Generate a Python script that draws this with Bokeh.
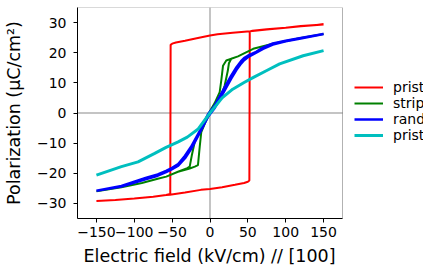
from bokeh.plotting import figure
from bokeh.models import Range1d, Span, Legend, LegendItem, FixedTicker, BoxAnnotation, Title
from bokeh.embed import file_html
from bokeh.resources import INLINE

# ---------------- data ----------------
series_names = ["pristine [100]", "stripe [100]", "rand.2 [100]", "pristine [110]"]
series_colors = ["#ff0000", "#008000", "#0000ff", "#00bfbf"]

red_x = [150, 120, 100, 75, 53, 30, 10, 0, -16, -33, -45, -50, -52,
         -52.5, -58, -75, -100, -125, -150,
         -125, -100, -75, -58, -53, -33, -12, 0, 16, 33, 45, 50, 52,
         52.5, 56, 75, 100, 120, 150]
red_y = [29.4, 28.8, 28.3, 27.7, 27.1, 26.6, 26.1, 25.7, 24.9, 24.0, 23.4, 23.0, 22.6,
         -26.9, -27.2, -27.8, -28.4, -28.9, -29.2,
         -28.9, -28.4, -27.8, -27.2, -27.1, -26.4, -25.5, -25.2, -24.6, -23.8, -23.2, -22.8, -22.4,
         27.0, 27.3, 27.8, 28.3, 28.9, 29.4]

green_x = [150, 118, 83, 57, 37, 28, 25, 23.5, 19.4, 15, 1.8, -6, -11.5, -13.5, -15.9, -20, -26.8,
           -42.3, -57.7, -69, -90, -117, -150,
           -117, -90, -69, -57.7, -42.3, -30, -26.8, -24, -20.2, -13, -2.6, 6, 12.8, 15, 17.2, 21.5,
           37, 57, 83, 118, 150]
green_y = [26.2, 24.8, 23.0, 21.3, 18.8, 18.0, 16.5, 14.0, 9.1, 5.8, 0.9, -3.0, -6.3, -11.0, -17.3, -17.8, -18.4,
           -19.5, -21.1, -21.8, -23.2, -24.6, -26.0,
           -24.6, -23.2, -21.8, -21.1, -19.5, -18.3, -17.8, -14.0, -9.6, -6.0, -0.5, 3.2, 6.9, 11.0, 15.7, 17.4,
           18.8, 21.3, 23.0, 24.8, 26.2]

blue_x = [-150, -117, -84, -69, -58, -50, -42, -33, -25, -13.6, -2.6, 6, 17, 28, 35, 41, 45, 50, 61, 70, 83, 100, 118, 150,
          118, 100, 83, 70, 61, 50, 45, 41, 35, 28, 17, 6, -2.6, -13.6, -25, -33, -42, -50, -58, -69, -84, -117, -150]
blue_y = [-25.8, -24.4, -21.9, -20.8, -19.6, -18.6, -17.5, -15.0, -12.0, -6.6, -1.2, 1.6, 6.4, 11.4, 14.3, 16.4, 17.5, 18.5, 20.0, 21.3, 22.7, 23.8, 24.6, 26.2,
          24.8, 24.0, 23.1, 21.7, 20.3, 19.0, 18.2, 17.2, 15.2, 12.4, 7.4, 2.4, -0.4, -6.0, -11.2, -14.2, -16.9, -18.2, -19.2, -20.4, -21.5, -24.2, -25.8]

cyan_x = [-150, -117, -95, -73, -58, -42, -30, -16, 0, 16, 30, 45, 58, 75, 92, 123, 150]
cyan_y = [-20.6, -17.8, -16.2, -13.4, -11.4, -9.6, -8.0, -5.4, 0.0, 5.0, 7.9, 10.1, 11.9, 14.1, 16.3, 19.0, 20.7]

x_lim = (-175, 175)
y_lim = (-35, 35)
x_ticks = [-150, -100, -50, 0, 50, 100, 150]
y_ticks = [-30, -20, -10, 0, 10, 20, 30]
x_label = "Electric field (kV/cm) // [100]"
y_label = "Polarization (\u03bcC/cm\u00b2)"

# ---------------- figure ----------------
FONT = "DejaVu Sans"
AX_PX = 265          # width of the axes box in pixels
FRAME_W = 346        # frame continues to the canvas edge (room for the legend)
x_end = x_lim[0] + (x_lim[1] - x_lim[0]) * FRAME_W / AX_PX

p = figure(frame_width=FRAME_W, frame_height=211,
           x_range=Range1d(x_lim[0], x_end), y_range=Range1d(*y_lim),
           output_backend="svg", toolbar_location=None,
           min_border_left=71, min_border_right=0,
           min_border_top=7, min_border_bottom=0)
p.grid.visible = False
p.outline_line_color = None
p.background_fill_color = "white"
p.border_fill_color = "white"

# zero lines
p.segment(x0=[x_lim[0]], x1=[x_lim[1]], y0=[0], y1=[0], line_color="#b0b0b0", line_width=1.5)
p.add_layout(Span(location=0, dimension="height", line_color="#b0b0b0", line_width=1.5, level="underlay"))

xs = [red_x, green_x, blue_x, cyan_x]
ys = [red_y, green_y, blue_y, cyan_y]
widths = [2, 2, 2.5, 3]
renderers = []
for x, y, c, w in zip(xs, ys, series_colors, widths):
    renderers.append(p.line(x, y, line_color=c, line_width=w))

# axes box
p.add_layout(BoxAnnotation(left=x_lim[0], right=x_lim[1], bottom=y_lim[0], top=y_lim[1],
                           fill_alpha=0, line_color="black", line_width=1, level="overlay"))

def minus(v):
    return str(v).replace("-", "\u2212")

p.xaxis.ticker = FixedTicker(ticks=x_ticks)
p.yaxis.ticker = FixedTicker(ticks=y_ticks)
p.xaxis.major_label_overrides = {v: minus(v) for v in x_ticks}
p.yaxis.major_label_overrides = {v: minus(v) for v in y_ticks}
p.xaxis.bounds = x_lim

for ax in (p.xaxis[0], p.yaxis[0]):
    ax.minor_tick_line_color = None
    ax.major_tick_out = 4
    ax.major_tick_in = 0
    ax.major_tick_line_color = "black"
    ax.axis_line_color = "black"
    ax.major_label_text_font = FONT
    ax.major_label_text_font_size = "14px"
    ax.major_label_text_color = "black"
    ax.axis_label_text_font = FONT
    ax.axis_label_text_font_size = "17.5px"
    ax.axis_label_text_font_style = "normal"
    ax.axis_label_text_color = "black"

p.yaxis.axis_label = y_label
p.xaxis.major_label_standoff = 4
p.yaxis.major_label_standoff = 7
p.yaxis.axis_label_standoff = 10

xt = Title(text=x_label, align="left", offset=6, standoff=8,
           text_font=FONT, text_font_size="17.5px", text_font_style="normal", text_color="black")
p.add_layout(xt, "below")

legend = Legend(items=[LegendItem(label=n, renderers=[r]) for n, r in zip(series_names, renderers)],
                location=(AX_PX + 12, 75), orientation="vertical",
                border_line_alpha=0, background_fill_alpha=0,
                padding=0, margin=0, spacing=0,
                glyph_width=29, glyph_height=16, label_height=16,
                label_standoff=10, label_text_font=FONT, label_text_font_size="14px",
                label_text_color="black")
p.add_layout(legend)

open("out.html", "w").write(file_html(p, INLINE))
